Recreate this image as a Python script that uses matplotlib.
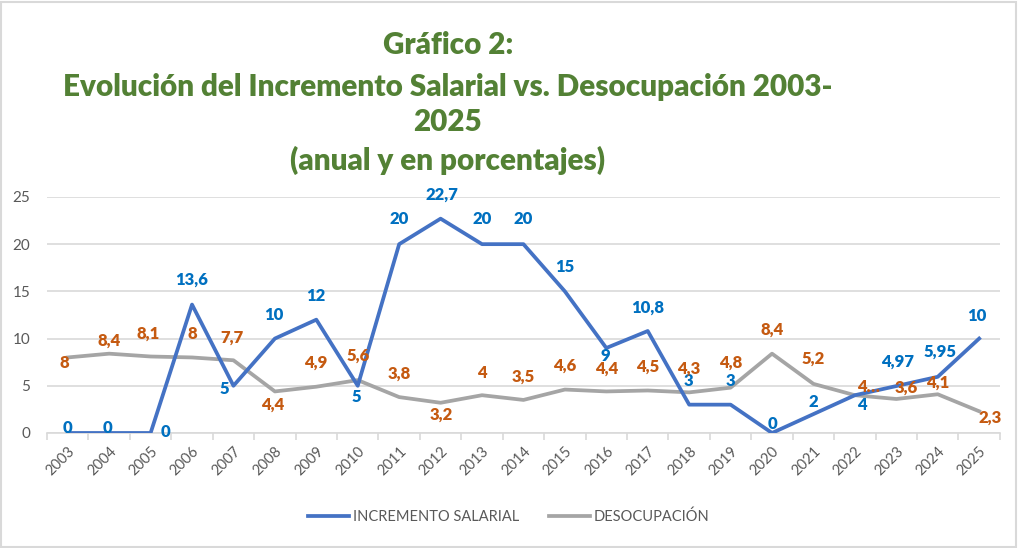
"""Line chart: salary increase vs unemployment, 2003-2025."""
import matplotlib.pyplot as plt
import numpy as np
from matplotlib.patches import Rectangle

years = [str(y) for y in range(2003, 2026)]
incremento = [0, 0, 0, 13.6, 5, 10, 12, 5, 20, 22.7, 20, 20, 15, 9, 10.8,
              3, 3, 0, 2, 4, 4.97, 5.95, 10]
desocupacion = [8, 8.4, 8.1, 8, 7.7, 4.4, 4.9, 5.6, 3.8, 3.2, 4, 3.5, 4.6,
                4.4, 4.5, 4.3, 4.8, 8.4, 5.2, 4.0, 3.6, 4.1, 2.3]
inc_labels = ["0", "0", "0", "13,6", "5", "10", "12", "5", "20", "22,7", "20",
              "20", "15", "9", "10,8", "3", "3", "0", "2", "4", "4,97", "5,95", "10"]
des_labels = ["8", "8,4", "8,1", "8", "7,7", "4,4", "4,9", "5,6", "3,8", "3,2",
              "4", "3,5", "4,6", "4,4", "4,5", "4,3", "4,8", "8,4", "5,2", "4…",
              "3,6", "4,1", "2,3"]

# label offsets from each point, in pixels (dx, dy)
inc_off = [(0, 5), (-2, 5), (15, 1), (0, 25), (-9, -3), (-1, 24), (-1, 24),
           (-1, -11), (0, 25), (1, 24), (0, 25), (0, 25), (0, 24), (-1, -8),
           (0, 23), (-1, 24), (0, 24), (0, 9), (0, 12), (7, -10), (1, 24),
           (2, 25), (-2, 23)]
des_off = [(-3, -6), (0, 13), (-2, 23), (0, 23), (-1, 23), (-2, -13), (-1, 24),
           (0, 24), (0, 23), (1, -12), (0, 22), (0, 23), (0, 24), (0, 23),
           (0, 24), (0, 24), (0, 25), (0, 24), (0, 25), (14, 8), (10, 11),
           (0, 12), (11, -6)]

BLUE = "#4472C4"
GRAY = "#A5A5A5"
BLUE_TXT = "#0070C0"
ORANGE_TXT = "#C55A11"
GREEN = "#538135"
AX_TXT = "#595959"

plt.rcParams["font.family"] = ["Lato", "DejaVu Sans"]

fig = plt.figure(figsize=(10.18, 5.48), dpi=100)
ax = fig.add_axes([0.0462, 0.2099, 0.936, 0.4307])

x = np.arange(len(years))
ax.plot(x, incremento, color=BLUE, lw=2.7, label="INCREMENTO SALARIAL", zorder=3)
ax.plot(x, desocupacion, color=GRAY, lw=2.7, label="DESOCUPACIÓN", zorder=2)

for xi, v, t, o in zip(x, incremento, inc_labels, inc_off):
    ax.annotate(t, (xi, v), xytext=o, textcoords="offset pixels",
                ha="center", va="center", color=BLUE_TXT, fontsize=12,
                fontweight="heavy", zorder=5, annotation_clip=False)
for xi, v, t, o in zip(x, desocupacion, des_labels, des_off):
    ax.annotate(t, (xi, v), xytext=o, textcoords="offset pixels",
                ha="center", va="center", color=ORANGE_TXT, fontsize=12,
                fontweight="heavy", zorder=5, annotation_clip=False)

ax.set_xlim(-0.5, len(years) - 0.5)
ax.set_ylim(0, 25)
ax.set_yticks([0, 5, 10, 15, 20, 25])
ax.grid(axis="y", color="#D9D9D9", lw=1.2)
ax.set_axisbelow(True)
ax.set_xticks(x)
ax.set_xticklabels(years, rotation=45, ha="right", rotation_mode="anchor")
ax.set_xticks(np.arange(-0.5, len(years)), minor=True)
ax.tick_params(axis="x", which="major", length=0, pad=8, labelsize=10.5,
               labelcolor=AX_TXT)
ax.tick_params(axis="x", which="minor", length=5, color="#D9D9D9", width=1.2)
ax.tick_params(axis="y", length=0, labelsize=11, labelcolor=AX_TXT, pad=12)
for s in ["top", "right", "left"]:
    ax.spines[s].set_visible(False)
ax.spines["bottom"].set_color("#D9D9D9")
ax.spines["bottom"].set_linewidth(1.2)

title_lines = ["Gráfico 2:",
               "Evolución del Incremento Salarial vs. Desocupación 2003-",
               "2025",
               "(anual y en porcentajes)"]
title_y = [45, 87, 122, 160]
for line, yp in zip(title_lines, title_y):
    fig.text(0.44, 1 - yp / 548, line, ha="center", va="center", color=GREEN,
             fontsize=21.3, fontweight="heavy")

leg = fig.legend(loc="center", bbox_to_anchor=(0.5, 0.057), ncol=2,
                 frameon=False, fontsize=10.5, handlelength=2.8,
                 columnspacing=2.0, handletextpad=0.3)
for t in leg.get_texts():
    t.set_color(AX_TXT)

fig.patches.append(Rectangle((0.001, 0.002), 0.997, 0.995,
                             transform=fig.transFigure, fill=False,
                             edgecolor="#D9D9D9", lw=1.5))

fig.savefig("out.png", dpi=100)
